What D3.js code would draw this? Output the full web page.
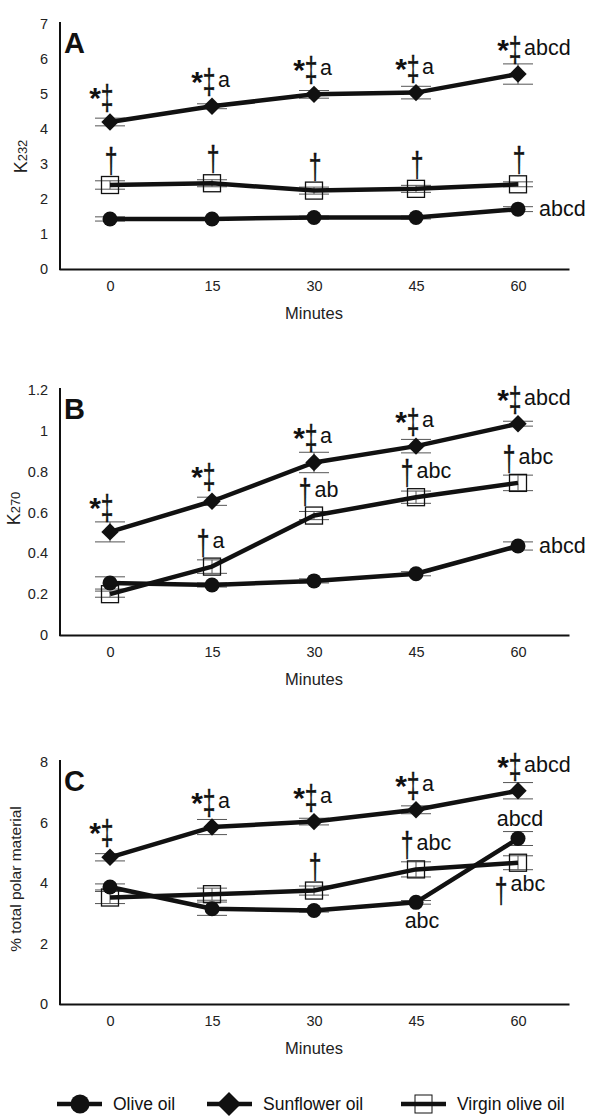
<!DOCTYPE html>
<html>
<head>
<meta charset="utf-8">
<script src="https://cdn.jsdelivr.net/npm/d3@7"></script>
<style>
body { margin: 0; background: #fff; }
text { font-family: "Liberation Sans", Arial, Helvetica, sans-serif; fill: #111; }
text.dag { stroke: #111; stroke-width: 0.35; }
</style>
</head>
<body>
<div id="chart"></div>
<script>
var width = 589,
    height = 1116;

var minutes = ["0", "15", "30", "45", "60"];
var seriesNames = ["Olive oil", "Sunflower oil", "Virgin olive oil"];

// panel A : K232
var ticksA = [0, 1, 2, 3, 4, 5, 6, 7];
var oliveA = [1.43, 1.43, 1.47, 1.47, 1.71];
var oliveErrA = [0.06, 0.04, 0.04, 0.04, 0.07];
var sunflowerA = [4.2, 4.65, 4.99, 5.04, 5.57];
var sunflowerErrA = [0.11, 0.07, 0.11, 0.18, 0.29];
var virginA = [2.4, 2.45, 2.24, 2.29, 2.42];
var virginErrA = [0.12, 0.1, 0.1, 0.1, 0.07];
var oliveTagsA = ["", "", "", "", "abcd"];
var sunflowerTagsA = ["*‡", "*‡a", "*‡a", "*‡a", "*‡abcd"];
var virginTagsA = ["†", "†", "†", "†", "†"];

// panel B : K270
var ticksB = [0, 0.2, 0.4, 0.6, 0.8, 1, 1.2];
var oliveB = [0.255, 0.245, 0.265, 0.3, 0.436];
var oliveErrB = [0.03, 0.01, 0.01, 0.01, 0.02];
var sunflowerB = [0.505, 0.655, 0.845, 0.925, 1.035];
var sunflowerErrB = [0.049, 0.02, 0.05, 0.033, 0.012];
var virginB = [0.2, 0.335, 0.585, 0.675, 0.745];
var virginErrB = [0.015, 0.033, 0.02, 0.03, 0.038];
var oliveTagsB = ["", "", "", "", "abcd"];
var sunflowerTagsB = ["*‡", "*‡", "*‡a", "*‡a", "*‡abcd"];
var virginTagsB = ["", "†a", "†ab", "†abc", "†abc"];

// panel C : % total polar material
var ticksC = [0, 2, 4, 6, 8];
var oliveC = [3.87, 3.15, 3.09, 3.36, 5.47];
var oliveErrC = [0.1, 0.22, 0.05, 0.06, 0.23];
var sunflowerC = [4.85, 5.85, 6.03, 6.42, 7.05];
var sunflowerErrC = [0.12, 0.25, 0.11, 0.13, 0.27];
var virginC = [3.52, 3.63, 3.75, 4.45, 4.67];
var virginErrC = [0.2, 0.2, 0.15, 0.25, 0.23];
var oliveTagsC = ["", "", "", "abc", "abcd"];
var sunflowerTagsC = ["*‡", "*‡a", "*‡a", "*‡a", "*‡abcd"];
var virginTagsC = ["", "", "†", "†abc", "†abc"];
var oliveSidesC = ["right", "right", "right", "below", "above"];
var virginSidesC = ["above", "above", "above", "above", "below"];

var svg = d3.select("#chart").append("svg")
    .attr("width", width)
    .attr("height", height);

var x = d3.scalePoint().domain(minutes).range([59, 569]).padding(0.5);

var diamond = function(r) { return "M0," + (-r) + "L" + r + ",0L0," + r + "L" + (-r) + ",0Z"; };

function series(vals, errs) {
    return vals.map(function(v, i) { return { m: minutes[i], v: v, e: errs[i] }; });
}

function drawTag(g, tag, px, py, kind, side) {
    if (!tag) return;
    var syms = tag.replace(/[a-z ]/g, "");
    var letters = tag.replace(/[^a-z]/g, "");

    if (kind == "olive" && side != "below" && side != "above") {
        g.append("text").attr("x", px + 21).attr("y", py + 7)
            .attr("font-size", 21.5).text(letters);
        return;
    }
    if (syms == "") {
        g.append("text").attr("text-anchor", "middle")
            .attr("x", side == "below" ? px + 6 : px + 2)
            .attr("y", side == "below" ? py + 26 : py - 13)
            .attr("font-size", 21.5).text(letters);
        return;
    }

    var shift, b, lb;
    if (kind == "sunflower") shift = -3;
    else shift = letters ? -9 : 1;
    b = py - 12;
    lb = py - 19;
    if (side == "below") { shift = -17; b = py + 40; lb = py + 28; }
    var cx = px + shift;

    var dag = syms.slice(-1);
    g.append("text").attr("class", "dag")
        .attr("transform", "translate(" + cx + "," + b + ") scale(0.95,1.45)")
        .attr("text-anchor", "middle")
        .attr("font-size", 24)
        .text(dag);
    if (syms.indexOf("*") >= 0) {
        g.append("text").attr("text-anchor", "end")
            .attr("x", cx - 6).attr("y", b - 2)
            .attr("font-size", 30).attr("font-weight", "bold")
            .text("*");
    }
    if (letters) {
        g.append("text")
            .attr("x", cx + (kind == "sunflower" ? 9 : 9.5))
            .attr("y", lb)
            .attr("font-size", 21.5)
            .text(letters);
    }
}

function drawPanel(p) {
    var y = d3.scaleLinear().domain([0, p.max]).range([p.bottom, p.top]);
    var g = svg.append("g");

    // axes
    var yAxis = d3.axisLeft(y).tickValues(p.ticks).tickSize(0).tickSizeOuter(0).tickPadding(12)
        .tickFormat(function(d) { return String(+d.toFixed(1)); });
    var ya = g.append("g").attr("transform", "translate(60,0)").call(yAxis);
    ya.attr("font-family", null).attr("font-size", null);
    ya.select(".domain").attr("stroke", "#111").attr("stroke-width", 2)
        .attr("d", "M0," + (p.top - 2) + "V" + (p.bottom + 1));
    ya.selectAll(".tick text").attr("font-size", 14.5).style("fill", "#222");

    var xAxis = d3.axisBottom(x).tickSize(0).tickSizeOuter(0).tickPadding(12);
    var xa = g.append("g").attr("transform", "translate(0," + p.bottom + ")").call(xAxis);
    xa.attr("font-family", null).attr("font-size", null);
    xa.select(".domain").attr("stroke", "#111").attr("stroke-width", 2);
    xa.selectAll(".tick text").attr("font-size", 14.5).style("fill", "#222");

    g.append("text").attr("x", x("30")).attr("y", p.bottom + 50)
        .attr("text-anchor", "middle").attr("font-size", 16.5).style("fill", "#222")
        .text("Minutes");

    // y label
    var yl = g.append("text")
        .attr("transform", "translate(" + p.labelX + "," + ((p.top + p.bottom) / 2 + p.labelDy) + ") rotate(-90)")
        .attr("text-anchor", "middle").style("fill", "#222");
    if (p.sub) {
        yl.append("tspan").attr("font-size", 18).text(p.label);
        yl.append("tspan").attr("font-size", 13).text(p.sub);
    } else {
        yl.attr("font-size", 15.5).text(p.label);
    }

    g.append("text").attr("x", 64).attr("y", p.top + 29)
        .attr("font-size", 29).attr("font-weight", "bold").text(p.letter);

    var data = {
        olive: series(p.olive, p.oliveErr),
        sunflower: series(p.sunflower, p.sunflowerErr),
        virgin: series(p.virgin, p.virginErr)
    };
    var kinds = ["olive", "sunflower", "virgin"];

    // error bars
    kinds.forEach(function(k) {
        var eb = g.append("g").attr("stroke", "#555").attr("stroke-width", 1);
        data[k].forEach(function(d) {
            var cx = x(d.m), y0 = y(d.v - d.e), y1 = y(d.v + d.e);
            eb.append("line").attr("x1", cx).attr("x2", cx).attr("y1", y0).attr("y2", y1);
            eb.append("line").attr("x1", cx - 15).attr("x2", cx + 15).attr("y1", y0).attr("y2", y0);
            eb.append("line").attr("x1", cx - 15).attr("x2", cx + 15).attr("y1", y1).attr("y2", y1);
        });
    });

    var line = d3.line().x(function(d) { return x(d.m); }).y(function(d) { return y(d.v); });
    kinds.forEach(function(k) {
        g.append("path").datum(data[k]).attr("d", line)
            .attr("fill", "none").attr("stroke", "#111").attr("stroke-width", 4.5)
            .attr("stroke-linejoin", "round");
    });

    g.selectAll(".olive").data(data.olive).enter().append("circle")
        .attr("cx", function(d) { return x(d.m); })
        .attr("cy", function(d) { return y(d.v); })
        .attr("r", 7.5).attr("fill", "#111");
    g.selectAll(".sun").data(data.sunflower).enter().append("path")
        .attr("transform", function(d) { return "translate(" + x(d.m) + "," + y(d.v) + ")"; })
        .attr("d", diamond(8.7)).attr("fill", "#111");
    g.selectAll(".virgin").data(data.virgin).enter().append("rect")
        .attr("x", function(d) { return x(d.m) - 8.5; })
        .attr("y", function(d) { return y(d.v) - 8.5; })
        .attr("width", 17).attr("height", 17)
        .attr("fill", "none").attr("stroke", "#111").attr("stroke-width", 1.3);

    // significance labels
    var tg = g.append("g");
    minutes.forEach(function(m, i) {
        drawTag(tg, p.sunflowerTags[i], x(m), y(p.sunflower[i]), "sunflower", "above");
        drawTag(tg, p.virginTags[i], x(m), y(p.virgin[i]), "virgin", p.virginSides ? p.virginSides[i] : "above");
        drawTag(tg, p.oliveTags[i], x(m), y(p.olive[i]), "olive", p.oliveSides ? p.oliveSides[i] : "right");
    });
}

drawPanel({ letter: "A", top: 24, bottom: 269, max: 7, ticks: ticksA, label: "K", sub: "232", labelX: 27, labelDy: 10,
    olive: oliveA, oliveErr: oliveErrA, sunflower: sunflowerA, sunflowerErr: sunflowerErrA, virgin: virginA, virginErr: virginErrA,
    oliveTags: oliveTagsA, sunflowerTags: sunflowerTagsA, virginTags: virginTagsA });

drawPanel({ letter: "B", top: 390, bottom: 635, max: 1.2, ticks: ticksB, label: "K", sub: "270", labelX: 20, labelDy: -4,
    olive: oliveB, oliveErr: oliveErrB, sunflower: sunflowerB, sunflowerErr: sunflowerErrB, virgin: virginB, virginErr: virginErrB,
    oliveTags: oliveTagsB, sunflowerTags: sunflowerTagsB, virginTags: virginTagsB });

drawPanel({ letter: "C", top: 762, bottom: 1004, max: 8, ticks: ticksC, label: "% total polar material", labelX: 21, labelDy: -4,
    olive: oliveC, oliveErr: oliveErrC, sunflower: sunflowerC, sunflowerErr: sunflowerErrC, virgin: virginC, virginErr: virginErrC,
    oliveTags: oliveTagsC, sunflowerTags: sunflowerTagsC, virginTags: virginTagsC,
    oliveSides: oliveSidesC, virginSides: virginSidesC });

// legend
var legend = svg.append("g").attr("transform", "translate(0,1104)");
var legX = [57, 207, 401];
seriesNames.forEach(function(name, i) {
    var lg = legend.append("g").attr("transform", "translate(" + legX[i] + ",0)");
    lg.append("line").attr("x1", 0).attr("x2", 45).attr("stroke", "#111").attr("stroke-width", 4.5);
    if (i == 0) lg.append("circle").attr("cx", 23).attr("r", 9.5).attr("fill", "#111");
    if (i == 1) lg.append("path").attr("transform", "translate(22,0)").attr("d", diamond(12)).attr("fill", "#111");
    if (i == 2) lg.append("rect").attr("x", 14).attr("y", -9).attr("width", 17).attr("height", 18)
        .attr("fill", "none").attr("stroke", "#111").attr("stroke-width", 1);
    lg.append("text").attr("x", 56).attr("y", 6).attr("font-size", 17.5).text(name);
});
</script>
</body>
</html>
